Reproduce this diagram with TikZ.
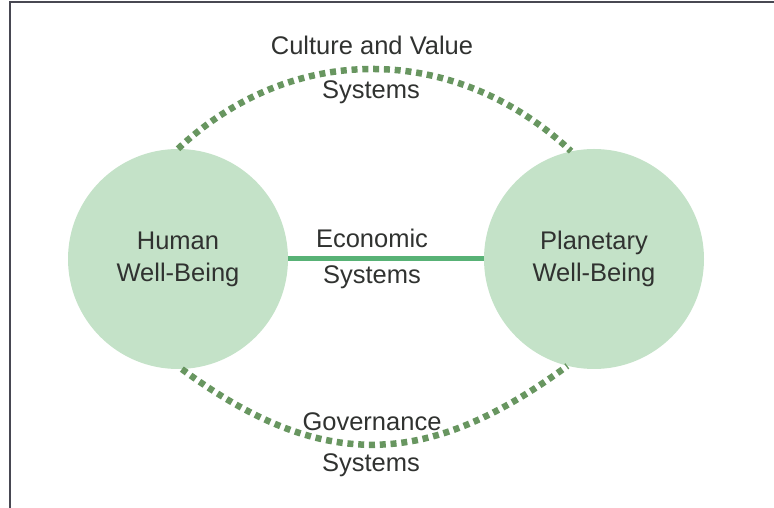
\documentclass[tikz,border=0pt]{standalone}
\usepackage{fontspec}
\setmainfont{Liberation Sans}
\definecolor{wellfill}{RGB}{196,226,200}
\definecolor{dotgreen}{RGB}{104,150,96}
\definecolor{ecoline}{RGB}{88,178,118}
\definecolor{labeltext}{RGB}{48,50,48}
\definecolor{framegray}{RGB}{72,72,82}
\begin{document}
\begin{tikzpicture}[x=1pt,y=1pt,
  wellbeing/.style={circle, fill=wellfill, draw=none, minimum size=220pt,
    inner sep=0pt, align=center, text=labeltext,
    font=\fontsize{25.5}{32}\selectfont},
  syslabel/.style={inner sep=0pt, text=labeltext,
    font=\fontsize{25.5}{32}\selectfont},
  dotlink/.style={draw=dotgreen, line width=6.5pt, line cap=butt,
    dash pattern=on 6pt off 4.8pt},
  ecolink/.style={draw=ecoline, line width=5pt}]
\useasboundingbox (0,0) rectangle (774,508);

% frame edges
\draw[framegray, line width=1.6pt] (10,0) -- (10,506) -- (774,506);

% the two well-being circles
\node[wellbeing] (human)  at (178,249) {Human\\Well-Being};
\node[wellbeing] (planet) at (594,249) {Planetary\\Well-Being};

% economic systems link
\draw[ecolink] (human) -- (planet);
\node[syslabel] (eco)    at (372,270) {Economic};
\node[syslabel] (ecosys) at (372,231) {Systems};

% culture and value systems link (upper arc)
\draw[dotlink] (human.90) .. controls +(115,108) and +(-115,108) .. (planet.102);
\node[syslabel] (culture)    at (372,463) {Culture and Value};
\node[syslabel] (culturesys) at (371,416) {Systems};

% governance systems link (lower arc)
\draw[dotlink] (human.272) .. controls +(140,-103) and +(-140,-103) .. (planet.256);
\node[syslabel] (gov)    at (372,86) {Governance};
\node[syslabel] (govsys) at (371,43) {Systems};
\end{tikzpicture}
\end{document}
